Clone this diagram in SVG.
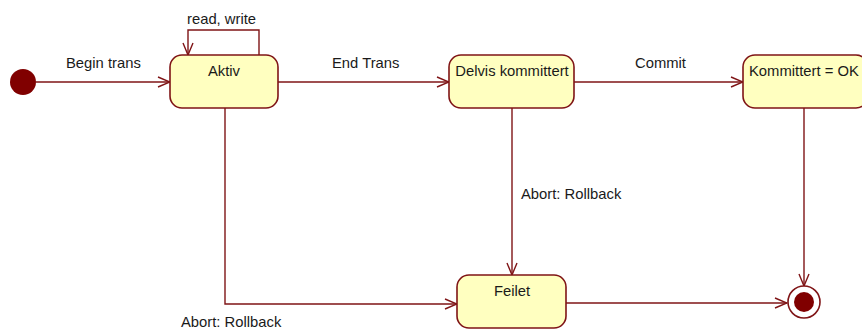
<svg xmlns="http://www.w3.org/2000/svg" width="862" height="329" viewBox="0 0 862 329">
  <defs>
    <style>
      .state { fill: #ffffc0; stroke: #7f1416; stroke-width: 1.6; }
      .edge { fill: none; stroke: #7f1416; stroke-width: 1.4; }
      .lbl { font-family: "Liberation Sans", Arial, sans-serif; font-size: 14.8px; fill: #1a1a1a; }
      .name { font-family: "Liberation Sans", Arial, sans-serif; font-size: 14.8px; fill: #1a1a1a; text-anchor: middle; }
    </style>
    <marker id="open" viewBox="0 0 14 12" refX="13" refY="6" markerWidth="14" markerHeight="12" markerUnits="userSpaceOnUse" orient="auto">
      <path d="M1,1 L13,6 L1,11" fill="none" stroke="#7f1416" stroke-width="1.4"/>
    </marker>
  </defs>
  <rect width="862" height="329" fill="#ffffff"/>

  <!-- transitions -->
  <g id="connectors">
    <path class="edge" d="M36,82 H170" marker-end="url(#open)"/>
    <path class="edge" d="M259,55 V30 H188 V55" marker-end="url(#open)"/>
    <path class="edge" d="M278,82 H449" marker-end="url(#open)"/>
    <path class="edge" d="M574,82 H743" marker-end="url(#open)"/>
    <path class="edge" d="M512,108 V275" marker-end="url(#open)"/>
    <path class="edge" d="M225,108 V304 H457" marker-end="url(#open)"/>
    <path class="edge" d="M566,303 H787" marker-end="url(#open)"/>
    <path class="edge" d="M804,108 V286" marker-end="url(#open)"/>
    <text class="lbl" x="66" y="68">Begin trans</text>
    <text class="lbl" x="187" y="24">read, write</text>
    <text class="lbl" x="332" y="68">End Trans</text>
    <text class="lbl" x="635" y="68">Commit</text>
    <text class="lbl" x="521" y="199">Abort: Rollback</text>
    <text class="lbl" x="181" y="327">Abort: Rollback</text>
  </g>

  <g id="start">
    <circle cx="23" cy="82" r="13" fill="#800000"/>
  </g>

  <g id="aktiv">
    <rect class="state" x="170" y="55" width="108" height="53" rx="12"/>
    <text class="name" x="224" y="76">Aktiv</text>
  </g>

  <g id="delvis">
    <rect class="state" x="449" y="55" width="125" height="53" rx="12"/>
    <text class="name" x="512" y="76">Delvis kommittert</text>
  </g>

  <g id="kommittert">
    <rect class="state" x="743" y="55" width="125" height="53" rx="12"/>
    <text class="name" x="749" y="76" style="text-anchor:start">Kommittert = OK</text>
  </g>

  <g id="feilet">
    <rect class="state" x="457" y="275" width="109" height="53" rx="12"/>
    <text class="name" x="512" y="296">Feilet</text>
  </g>

  <g id="end">
    <circle cx="804" cy="302" r="16" fill="#ffffff" stroke="#7f1416" stroke-width="1.6"/>
    <circle cx="804" cy="302" r="10" fill="#800000"/>
  </g>
</svg>
